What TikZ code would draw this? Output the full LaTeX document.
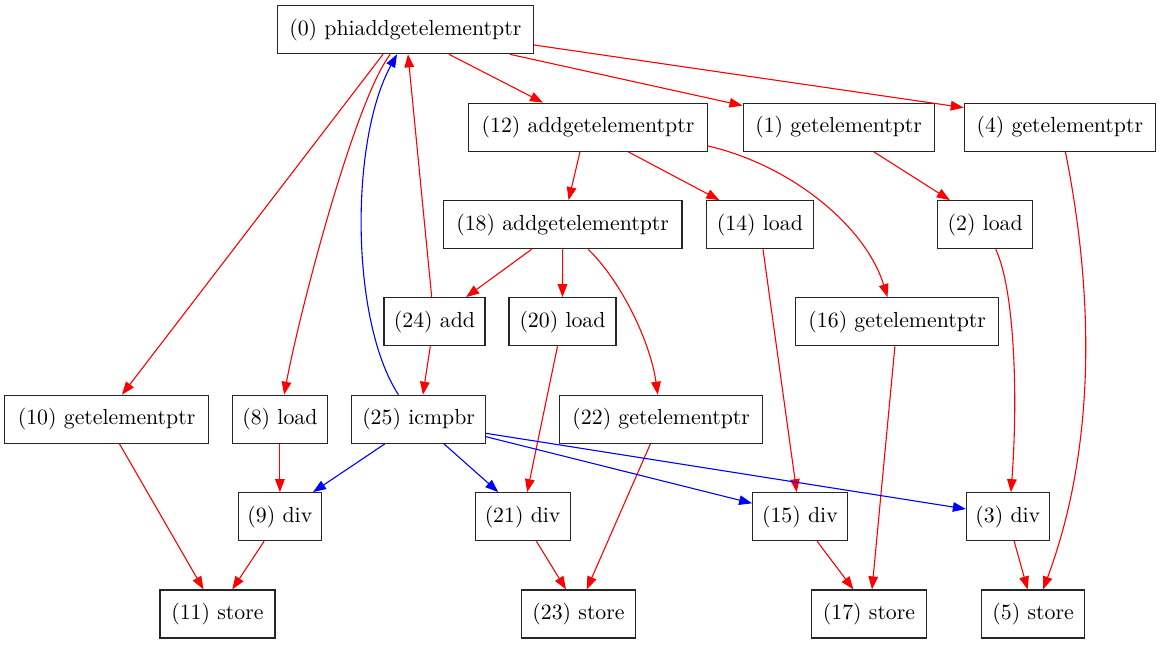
\documentclass[tikz,border=0pt]{standalone}
\usetikzlibrary{arrows.meta,calc}
\begin{document}
\begin{tikzpicture}[x=0.5pt,y=-0.5pt,
  opw/.style={draw=black!85, line width=0.6pt, minimum width={#1*0.5pt},
    minimum height=24pt, inner sep=0pt, font=\fontsize{10.9}{13}\selectfont},
  tip/.style={-{Triangle[length=6.5pt,width=4.8pt]}},
  dep/.style={tip, draw=red, line width=0.55pt},
  ctl/.style={tip, draw=blue, line width=0.55pt}]
\useasboundingbox (0,0) rectangle (1161,644);

% instruction nodes, one row per rank
\node[opw=256.4] (n0)  at (405.3,29.7)  {(0) phiaddgetelementptr};
\node[opw=239]   (n12) at (588,127.2)   {(12) addgetelementptr};
\node[opw=191]   (n1)  at (838.6,127.2) {(1) getelementptr};
\node[opw=191]   (n4)  at (1059.8,127.2){(4) getelementptr};
\node[opw=238.7] (n18) at (562.6,224.7) {(18) addgetelementptr};
\node[opw=107]   (n14) at (759.9,224.7) {(14) load};
\node[opw=95.3]  (n2)  at (985.2,224.7) {(2) load};
\node[opw=101]   (n24) at (434.5,321.7) {(24) add};
\node[opw=107]   (n20) at (562.5,321.7) {(20) load};
\node[opw=203]   (n16) at (897.2,321.7) {(16) getelementptr};
\node[opw=203.5] (n10) at (106.6,419.3) {(10) getelementptr};
\node[opw=95]    (n8)  at (279.9,419.3) {(8) load};
\node[opw=133.6] (n25) at (418.6,419.3) {(25) icmpbr};
\node[opw=203]   (n22) at (661.2,419.3) {(22) getelementptr};
\node[opw=83]    (n9)  at (279.9,516.7) {(9) div};
\node[opw=95]    (n21) at (522.6,516.7) {(21) div};
\node[opw=94.4]  (n15) at (799.9,516.7) {(15) div};
\node[opw=82.7]  (n3)  at (1007.8,516.7){(3) div};
\node[opw=115]   (n11) at (217.4,614)   {(11) store};
\node[opw=114.3] (n23) at (578.5,614)   {(23) store};
\node[opw=114.8] (n17) at (869,614)     {(17) store};
\node[opw=103]   (n5)  at (1033.1,614)  {(5) store};

% data dependencies
\draw[dep] ($(n0.south)+(43.7,0)$) -- ($(n12.north)+(-45,0)$);
\draw[dep] ($(n0.south)+(104.5,0)$) -- ($(n1.north west)+(0,3)$);
\draw[dep] ($(n0.east)+(0,15.3)$) -- ($(n4.north west)+(0,5)$);
\draw[dep] ($(n0.south)+(-22.3,0)$) -- ($(n10.north)+(15.4,0)$);
\draw[dep] ($(n0.south)+(-15,0)$) .. controls (355,100) and (300,310) .. ($(n8.north)+(4.2,0)$);
\draw[dep] ($(n24.north)+(-2.8,0)$) -- ($(n0.south)+(2.7,0)$);
\draw[dep] ($(n12.south)+(-8,0)$) -- ($(n18.north)+(6,0)$);
\draw[dep] ($(n12.south)+(40.2,0)$) -- ($(n14.north)+(-40.6,0)$);
\draw[dep] ($(n12.east)+(0,18.8)$) .. controls (790,165) and (865,225) .. ($(n16.north)+(-9.7,0)$);
\draw[dep] ($(n1.south)+(35.2,0)$) -- ($(n2.north)+(-35.4,0)$);
\draw[dep] ($(n4.south)+(5.6,0)$) .. controls (1095,300) and (1095,450) .. ($(n5.north)+(10,0)$);
\draw[dep] ($(n18.south)+(-31,0)$) -- ($(n24.north)+(31.6,0)$);
\draw[dep] (n18.south) -- (n20.north);
\draw[dep] ($(n18.south)+(25.6,0)$) .. controls (620,280) and (650,340) .. ($(n22.north)+(-3.4,0)$);
\draw[dep] ($(n14.south)+(3.1,0)$) -- ($(n15.north)+(-3.2,0)$);
\draw[dep] ($(n2.south)+(10.5,0)$) .. controls (1015,290) and (1018,400) .. ($(n3.north)+(3.1,0)$);
\draw[dep] ($(n16.south)+(-2.3,0)$) -- ($(n17.north)+(3,0)$);
\draw[dep] ($(n24.south)+(-4.2,0)$) -- ($(n25.north)+(4.3,0)$);
\draw[dep] ($(n20.south)+(-5,0)$) -- ($(n21.north)+(4.6,0)$);
\draw[dep] ($(n22.south)+(-10.8,0)$) -- ($(n23.north)+(8.2,0)$);
\draw[dep] ($(n10.south)+(12.9,0)$) -- ($(n11.north)+(-13.9,0)$);
\draw[dep] (n8.south) -- (n9.north);
\draw[dep] ($(n9.south)+(-15.8,0)$) -- ($(n11.north)+(14.9,0)$);
\draw[dep] ($(n21.south)+(13.8,0)$) -- ($(n23.north)+(-12.5,0)$);
\draw[dep] ($(n15.south)+(17.2,0)$) -- ($(n17.north)+(-15.6,0)$);
\draw[dep] ($(n3.south)+(6.4,0)$) -- ($(n5.north)+(-5.5,0)$);

% control dependencies of the branch
\draw[ctl] ($(n25.north)+(-20.2,0)$) .. controls (350,320) and (350,140) .. ($(n0.south)+(-8.3,0)$);
\draw[ctl] ($(n25.south)+(-33.8,0)$) -- ($(n9.north)+(33.1,0)$);
\draw[ctl] ($(n25.south)+(25.4,0)$) -- ($(n21.north)+(-24.3,0)$);
\draw[ctl] ($(n25.east)+(0,17.4)$) -- ($(n15.west)+(0,-13.4)$);
\draw[ctl] ($(n25.east)+(0,14)$) -- ($(n3.west)+(0,-7.7)$);
\end{tikzpicture}
\end{document}
